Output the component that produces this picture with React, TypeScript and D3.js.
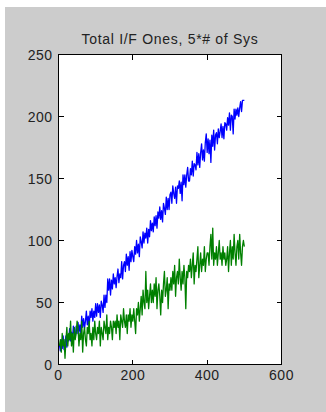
import React from "react";
import * as d3 from "d3";

const title = "Total I/F Ones, 5*# of Sys";
const xTicks = [0, 200, 400, 600];
const yTicks = [0, 50, 100, 150, 200, 250];
const xStep = 2.5;

const blueValues = [
  16, 11, 20, 13, 23, 12, 18, 23, 14, 24, 19, 29, 19, 26, 19, 31, 25, 21, 31, 25,
  34, 26, 32, 25, 39, 30, 37, 29, 35, 43, 32, 39, 30, 43, 38, 45, 35, 43, 38, 49,
  39, 49, 42, 48, 38, 51, 48, 42, 56, 46, 56, 50, 69, 60, 69, 56, 68, 61, 73, 65,
  70, 62, 71, 77, 66, 73, 70, 83, 69, 80, 83, 75, 89, 80, 87, 76, 91, 83, 92, 87,
  83, 95, 89, 100, 90, 97, 87, 103, 99, 94, 107, 98, 106, 102, 110, 98, 109, 103, 116, 108,
  114, 107, 119, 112, 120, 110, 123, 118, 127, 117, 124, 115, 130, 126, 121, 135, 125, 134, 125, 137,
  139, 130, 144, 138, 134, 143, 130, 144, 142, 148, 138, 147, 132, 153, 145, 153, 143, 153, 159, 148,
  148, 158, 153, 164, 152, 162, 161, 157, 171, 161, 170, 159, 171, 178, 165, 173, 164, 179, 186, 171,
  182, 170, 181, 163, 185, 176, 189, 173, 185, 187, 178, 190, 183, 188, 194, 183, 192, 182, 195, 194,
  189, 199, 193, 203, 189, 201, 200, 186, 206, 198, 206, 201, 207, 200, 207, 212, 204, 213, 213, 213,
];

const greenValues = [
  15, 20, 10, 25, 15, 20, 5, 20, 30, 15, 25, 20, 35, 15, 25, 10, 30, 20, 25, 35,
  30, 15, 25, 20, 35, 10, 25, 30, 20, 15, 30, 25, 35, 20, 25, 15, 30, 20, 35, 25,
  20, 30, 25, 35, 15, 30, 25, 20, 35, 30, 25, 40, 20, 30, 25, 35, 30, 20, 35, 30,
  35, 25, 40, 30, 35, 20, 40, 35, 30, 45, 35, 30, 40, 25, 40, 35, 45, 30, 40, 35,
  45, 35, 25, 45, 40, 50, 35, 45, 55, 40, 60, 50, 45, 75, 50, 60, 45, 55, 65, 50,
  60, 50, 65, 55, 70, 45, 60, 65, 55, 40, 60, 50, 65, 75, 55, 60, 70, 45, 65, 60,
  70, 60, 75, 65, 80, 55, 70, 75, 65, 85, 70, 60, 75, 65, 80, 70, 45, 75, 70, 80,
  75, 85, 70, 80, 90, 65, 80, 75, 85, 95, 70, 80, 90, 75, 85, 80, 95, 75, 85, 90,
  90, 80, 95, 105, 85, 110, 80, 90, 85, 95, 80, 90, 100, 85, 90, 80, 95, 85, 90, 80,
  85, 95, 75, 90, 100, 80, 95, 85, 105, 90, 80, 95, 100, 85, 105, 90, 80, 95, 100, 95,
];

const W = 326;
const H = 412;
const L = 58.5, R = 281.5, T = 54.5, B = 364.5;
const FONT = "'Liberation Sans', Arial, Helvetica, sans-serif";

export default function App() {
  const x = d3.scaleLinear().domain([0, 600]).range([L, R]);
  const y = d3.scaleLinear().domain([0, 250]).range([B, T]);
  const line = d3
    .line<number>()
    .x((_, i) => x((i + 1) * xStep))
    .y((d) => y(d));
  const tick = 5;
  return (
    <svg
      width={W}
      height={H}
      style={{ position: "absolute", left: 0, top: 0, display: "block" }}
    >
      <rect x={0} y={0} width={W} height={H} fill="#ffffff" />
      <rect x={5} y={7} width={W - 5} height={H - 7} fill="#cccccc" />
      <rect x={L} y={T} width={R - L} height={B - T} fill="#ffffff" />
      <path d={line(blueValues) || ""} fill="none" stroke="#0000ff" strokeWidth={1.3} strokeLinejoin="round" />
      <path d={line(greenValues) || ""} fill="none" stroke="#008000" strokeWidth={1.3} strokeLinejoin="round" />
      <g stroke="#000" strokeWidth={1} shapeRendering="crispEdges">
        <rect x={L} y={T} width={R - L} height={B - T} fill="none" />
        {xTicks.map((t) => (
          <g key={"x" + t}>
            <line x1={x(t)} x2={x(t)} y1={B} y2={B - tick} />
            <line x1={x(t)} x2={x(t)} y1={T} y2={T + tick} />
          </g>
        ))}
        {yTicks.map((t) => (
          <g key={"y" + t}>
            <line x1={L} x2={L + tick} y1={y(t)} y2={y(t)} />
            <line x1={R} x2={R - tick} y1={y(t)} y2={y(t)} />
          </g>
        ))}
      </g>
      <g fontFamily={FONT} fontSize={14} fill="#222" letterSpacing={0.5}>
        {xTicks.map((t) => (
          <text key={"xl" + t} x={x(t)} y={B + 15} textAnchor="middle">
            {t}
          </text>
        ))}
        {yTicks.map((t) => (
          <text key={"yl" + t} x={L - 6} y={y(t) + 5} textAnchor="end">
            {t}
          </text>
        ))}
      </g>
      <text
        x={(L + R) / 2}
        y={44}
        textAnchor="middle"
        fontFamily={FONT}
        fontSize={14}
        letterSpacing={0.7}
        fill="#222"
      >
        {title}
      </text>
    </svg>
  );
}
